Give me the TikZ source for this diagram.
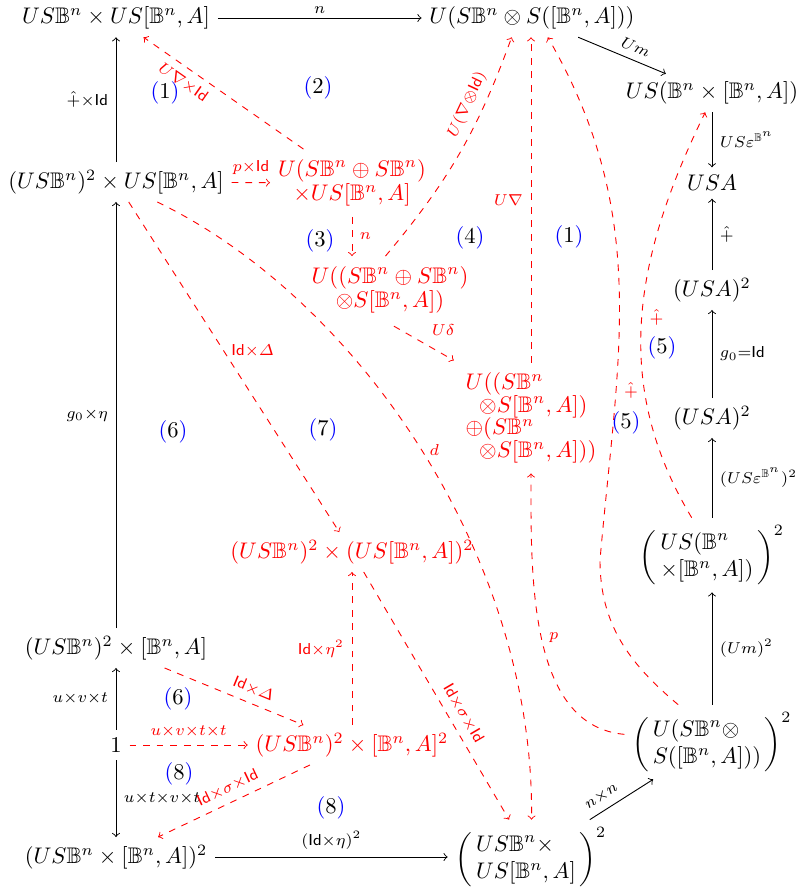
\documentclass[tikz,border=0pt]{standalone}
\usepackage{amsmath,amssymb}
\newcommand{\Bn}{\mathbb{B}^n}
\newcommand{\Id}{\mathsf{Id}}
\newcommand{\reg}[1]{{\color{blue}(}#1{\color{blue})}}
\begin{document}
\begin{tikzpicture}[>=to, x=0.443pt, y=0.443pt,
    lbl/.style={execute at begin node=$\scriptstyle, execute at end node=$},
    dasharr/.style={->, red, dashed},
    rnode/.style={text=red}]
    \useasboundingbox (0,0) rectangle (805,-887);

    % Outer square, left column
    \node (A) at (116,-18) {$US\Bn\times US[\Bn,A]$};
    \node (M) at (116,-182) {$(US\Bn)^2\times US[\Bn,A]$};
    \node (L) at (116,-648) {$(US\Bn)^2\times[\Bn,A]$};
    \node (K) at (116,-745) {$1$};
    \node (J) at (116,-857) {$(US\Bn\times[\Bn,A])^2$};

    % Top and right column
    \node (B) at (532,-18) {$U(S\Bn\otimes S([\Bn,A]))$};
    \node (C) at (712,-93) {$US(\Bn\times[\Bn,A])$};
    \node (D) at (712,-183) {$USA$};
    \node (E) at (712,-290) {$(USA)^2$};
    \node (F) at (712,-418) {$(USA)^2$};
    \node (G) at (712,-555) {$\left(\begin{array}{@{\,}l@{\,}}US(\Bn\\ \times[\Bn,A])\end{array}\right)^2$};
    \node (H) at (712,-742) {$\left(\begin{array}{@{\,}l@{\,}}U(S\Bn\otimes\\ S([\Bn,A]))\end{array}\right)^2$};
    \node (I) at (531,-857) {$\left(\begin{array}{@{\,}l@{\,}}US\Bn\times\\ US[\Bn,A]\end{array}\right)^2$};

    % Inner objects (red)
    \node[rnode] (N1) at (352,-183) {$\begin{array}{@{}c@{}}U(S\Bn\oplus S\Bn)\\[-1pt] \times US[\Bn,A]\end{array}$};
    \node[rnode] (N2) at (390,-290) {$\begin{array}{@{}c@{}}U((S\Bn\oplus S\Bn)\\[-1pt] \otimes S[\Bn,A])\end{array}$};
    \node[rnode] (N3) at (531,-418) {$\begin{array}{@{}l@{}}U((S\Bn\\[-2pt] \hspace{6pt}\otimes S[\Bn,A])\\[-2pt] \oplus(S\Bn\\[-2pt] \hspace{6pt}\otimes S[\Bn,A]))\end{array}$};
    \node[rnode] (N4) at (352,-552) {$(US\Bn)^2\times(US[\Bn,A])^2$};
    \node[rnode] (N5) at (352,-745) {$(US\Bn)^2\times[\Bn,A]^2$};
    \coordinate (hp) at (600,-560);

    % Black arrows
    \draw[->] (A) -- node[lbl, above=-1.5pt] {n} (B);
    \draw[->] (B) -- node[lbl, above, sloped, pos=0.6] {Um} (C);
    \draw[->] (C) -- node[lbl, right] {US\varepsilon^{\Bn}} (D);
    \draw[->] (E) -- node[lbl, right] {\hat{+}} (D);
    \draw[->] (F) -- node[lbl, right] {g_0{=}\Id} (E);
    \draw[->] (G) -- node[lbl, right] {(US\varepsilon^{\Bn})^2} (F);
    \draw[->] (H) -- node[lbl, right] {(Um)^2} (G);
    \draw[->] (I) -- node[lbl, above, sloped, pos=0.3] {n\times n} (H);
    \draw[->] (J) -- node[lbl, above] {(\Id\times\eta)^2} (I);
    \draw[->] (K) -- node[lbl, right] {u\times t\times v\times t} (J);
    \draw[->] (K) -- node[lbl, left] {u\times v\times t} (L);
    \draw[->] (L) -- node[lbl, left] {g_0\times\eta} (M);
    \draw[->] (M) -- node[lbl, left] {\hat{+}\times\Id} (A);

    % Red dashed arrows
    \draw[dasharr] (N1) -- node[lbl, below, sloped, pos=0.7] {U\nabla\times\Id} (A);
    \draw[dasharr] (M) -- node[lbl, above] {p\times\Id} (N1);
    \draw[dasharr] (N1.south) -- node[lbl, right] {n} (N1.south |- N2.north);
    \draw[dasharr] ([xshift=-2pt]N2.north) to[bend right=10] node[lbl, above, sloped, pos=0.7] {U(\nabla\otimes\Id)} ([xshift=-9pt]B.south);
    \draw[dasharr] (N3.north) -- node[lbl, left] {U\nabla} (N3.north |- B.south);
    \draw[dasharr, shorten <=2pt, shorten >=2pt] (N2.south) -- node[lbl, above right] {U\delta} (N3.north west);
    \draw[dasharr] (M) -- node[lbl, right, pos=0.45] {\Id\times\varDelta} (N4);
    \draw[dasharr] (M) .. controls (360,-300) and (535,-560) .. node[lbl, right] {d} (I);
    \draw[dasharr] (N5) -- node[lbl, left] {\Id\times\eta^2} (N4);
    \draw[dasharr] (N4) -- node[lbl, above, sloped, pos=0.6] {\Id\times\sigma\times\Id} (I);
    \draw[dasharr] (L) -- node[lbl, above, sloped, pos=0.6] {\Id\times\varDelta} (N5);
    \draw[dasharr] (K) -- node[lbl, above] {u\times v\times t\times t} (N5);
    \draw[dasharr] (N5) -- node[lbl, above, sloped] {\Id\times\sigma\times\Id} (J);
    \draw[dasharr] (H) to[out=175, in=-90, looseness=0.9] node[lbl, right] {p} (N3);
    \draw[dasharr] ([xshift=-15pt]H.north) to[out=140, in=-90] (hp) to[out=85, in=-60] node[lbl, right, pos=0.3] {\hat{+}} ([xshift=7pt]B.south);
    \draw[dasharr] ([xshift=-9pt]G.north) to[out=121, in=-116] node[lbl, right] {\hat{+}} ([xshift=-3pt]C.south);

    % Region numbers
    \node (r1) at (165,-93) {\reg{1}};
    \node (r2) at (318,-88) {\reg{2}};
    \node (r3) at (320,-241) {\reg{3}};
    \node (r4) at (470,-238) {\reg{4}};
    \node (r5) at (569,-237) {\reg{1}};
    \node (r6) at (662,-348) {\reg{5}};
    \node (r7) at (626,-423) {\reg{5}};
    \node (r8) at (173,-432) {\reg{6}};
    \node (r9) at (323,-430) {\reg{7}};
    \node (r10) at (178,-699) {\reg{6}};
    \node (r11) at (179,-774) {\reg{8}};
    \node (r12) at (331,-808) {\reg{8}};
\end{tikzpicture}
\end{document}
